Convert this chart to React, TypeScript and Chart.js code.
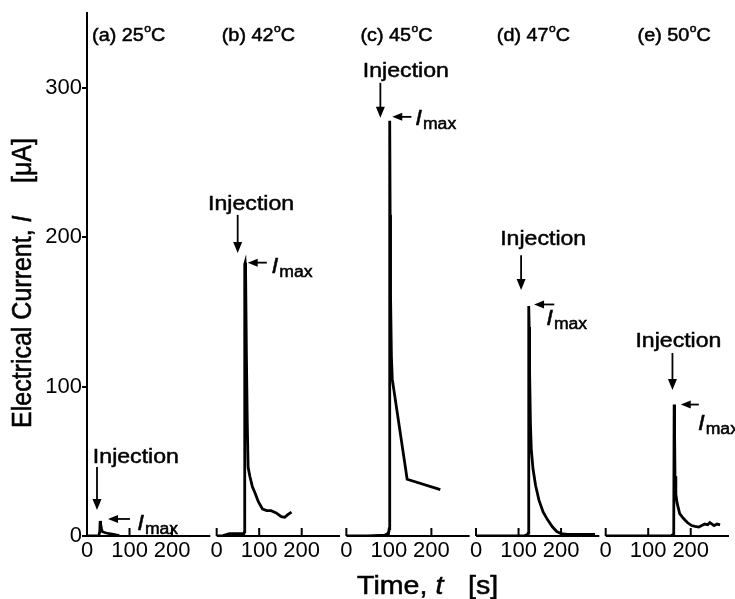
import React, { useEffect, useRef } from "react";
import { Chart, registerables } from "chart.js";

Chart.register(...registerables);

// ---- data ----
const PANEL_NAMES = ["(a) 25", "(b) 42", "(c) 45", "(d) 47", "(e) 50"];
const X_TICKS = [0, 100, 200];
const Y_TICKS = [0, 100, 200, 300];

const T_A = [0, 20, 28, 30, 31, 32, 34, 36, 40, 45, 55, 65, 72, 76];
const I_A = [0, 0, 0.3, 3, 10, 8, 5, 3, 2.5, 2, 1.5, 1, 0.5, 0.3];

const T_B = [0, 15, 30, 55, 64, 65.5, 66, 67, 68, 70, 72, 74, 78, 84, 90, 98, 108, 118, 128, 140, 152, 160, 168, 176];
const I_B = [0, 0.3, 1.5, 1.5, 1.5, 3, 182, 183, 178, 120, 75, 46, 40, 33, 29, 23, 18, 17, 17, 15.5, 13, 12.5, 14.5, 16];

const T_C = [0, 50, 90, 97, 100, 101, 102, 103, 104, 106, 108, 143, 221];
const I_C = [0, 0, 0.5, 1.5, 3, 5, 278, 215, 160, 120, 105, 38, 31];

const T_D = [0, 60, 115, 121, 123, 124, 125, 126, 128, 130, 134, 140, 148, 158, 168, 180, 190, 200, 215, 240, 280];
const I_D = [0, 0, 0.3, 1, 2, 154, 140, 110, 75, 58, 45, 34, 24, 16, 11, 6, 3, 1.5, 1, 1, 1];

const T_E = [0, 100, 155, 159, 160, 161, 162, 163, 165, 168, 174, 182, 192, 202, 210, 219, 226, 233, 240, 245, 250, 255, 262, 269];
const I_E = [0, 0, 0.3, 1, 3, 88, 70, 40, 28, 22, 15, 12, 9, 7, 6.5, 6, 7, 8, 7.5, 9, 8, 7, 8, 7.5];

const TIMES = [T_A, T_B, T_C, T_D, T_E];
const CURRENTS = [I_A, I_B, I_C, I_D, I_E];

// ---- layout of the panel strip (in seconds) ----
const PANEL_STEP = 305;
const PANEL_SPAN = 290;
const X_MAX = 4 * PANEL_STEP + PANEL_SPAN;
const Y_MAX = 350;

// ---- annotation placement (panel time / current units) ----
const LABEL_T = [12, 12, 33, 49, 75];
const LABEL_V = 331.5;
const INJ_TEXT_T = [115, 81, 140, 158, 171];
const INJ_TEXT_V = [48.9, 218, 307, 195, 126.6];
const INJ_ARROW_T = [23.5, 49.4, 80, 106, 157];
const INJ_ARROW_TOP = [46.2, 215, 303.4, 188, 122.5];
const INJ_ARROW_TIP = [17.4, 189.5, 280, 164.7, 97.8];
const IMAX_FROM_T = [101, 118, 153, 184, 219];
const IMAX_TO_T = [49.4, 73, 108, 136.5, 176.5];
const IMAX_V = [11.4, 183, 280.6, 155, 88];
const IMAX_TEXT_T = [118, 129, 162, 165, 217];
const IMAX_TEXT_V = [4, 176, 275, 141, 71];

const FAMILY = "'Liberation Sans', Arial, Helvetica, sans-serif";
const SX = 1.1;

function txt(ctx: CanvasRenderingContext2D, s: string, x: number, y: number, font: string, align: CanvasTextAlign = "left") {
  ctx.save();
  ctx.font = font;
  const w = ctx.measureText(s).width * SX;
  let x0 = x;
  if (align === "center") x0 = x - w / 2;
  else if (align === "right") x0 = x - w;
  ctx.translate(x0, y);
  ctx.scale(SX, 1);
  ctx.textAlign = "left";
  ctx.textBaseline = "alphabetic";
  ctx.fillStyle = "#000";
  ctx.strokeStyle = "#000";
  ctx.lineWidth = 0.5;
  ctx.fillText(s, 0, 0);
  ctx.strokeText(s, 0, 0);
  ctx.restore();
  return w;
}

function arrowDown(ctx: CanvasRenderingContext2D, x: number, y1: number, y2: number) {
  ctx.save();
  ctx.strokeStyle = "#000";
  ctx.fillStyle = "#000";
  ctx.lineWidth = 1.8;
  ctx.beginPath();
  ctx.moveTo(x, y1);
  ctx.lineTo(x, y2 - 8);
  ctx.stroke();
  ctx.beginPath();
  ctx.moveTo(x, y2);
  ctx.lineTo(x - 4.5, y2 - 11);
  ctx.lineTo(x + 4.5, y2 - 11);
  ctx.closePath();
  ctx.fill();
  ctx.restore();
}

function arrowLeft(ctx: CanvasRenderingContext2D, x1: number, x2: number, y: number) {
  ctx.save();
  ctx.strokeStyle = "#000";
  ctx.fillStyle = "#000";
  ctx.lineWidth = 1.8;
  ctx.beginPath();
  ctx.moveTo(x1, y);
  ctx.lineTo(x2 + 6, y);
  ctx.stroke();
  ctx.beginPath();
  ctx.moveTo(x2, y);
  ctx.lineTo(x2 + 10, y - 4);
  ctx.lineTo(x2 + 10, y + 4);
  ctx.closePath();
  ctx.fill();
  ctx.restore();
}

const decorPlugin = {
  id: "decor",
  afterDraw(chart: any) {
    const ctx: CanvasRenderingContext2D = chart.ctx;
    const xs = chart.scales.x;
    const ys = chart.scales.y;
    const px = (p: number, t: number) => xs.getPixelForValue(p * PANEL_STEP + t);
    const py = (v: number) => ys.getPixelForValue(v);
    const y0 = py(0);

    // panel x axes with inward ticks
    ctx.save();
    ctx.strokeStyle = "#000";
    ctx.lineWidth = 2;
    for (let p = 0; p < 5; p++) {
      ctx.beginPath();
      ctx.moveTo(px(p, 0), y0);
      ctx.lineTo(px(p, PANEL_SPAN), y0);
      ctx.stroke();
      for (const t of X_TICKS) {
        if (p === 0 && t === 0) continue;
        ctx.beginPath();
        ctx.moveTo(px(p, t), y0);
        ctx.lineTo(px(p, t), y0 - 8);
        ctx.stroke();
      }
    }
    ctx.restore();

    for (let p = 0; p < 5; p++) {
      // panel label
      let x = px(p, LABEL_T[p]);
      const yb = py(LABEL_V);
      x += txt(ctx, PANEL_NAMES[p], x, yb, `18px ${FAMILY}`);
      x += txt(ctx, "o", x + 0.5, yb - 9, `11px ${FAMILY}`) + 0.5;
      txt(ctx, "C", x, yb, `18px ${FAMILY}`);

      // Injection
      txt(ctx, "Injection", px(p, INJ_TEXT_T[p]), py(INJ_TEXT_V[p]), `21px ${FAMILY}`, "center");
      arrowDown(ctx, px(p, INJ_ARROW_T[p]), py(INJ_ARROW_TOP[p]), py(INJ_ARROW_TIP[p]));

      // I max
      arrowLeft(ctx, px(p, IMAX_FROM_T[p]), px(p, IMAX_TO_T[p]), py(IMAX_V[p]));
      const ix = px(p, IMAX_TEXT_T[p]);
      const iy = py(IMAX_TEXT_V[p]);
      const wI = txt(ctx, "I", ix, iy, `italic 22px ${FAMILY}`);
      txt(ctx, "max", ix + wI + 1, iy + 4, `16px ${FAMILY}`);
    }

    // y title (rotated)
    ctx.save();
    ctx.translate(31, 428);
    ctx.rotate(-Math.PI / 2);
    ctx.scale(1, SX);
    ctx.fillStyle = "#000";
    ctx.strokeStyle = "#000";
    ctx.lineWidth = 0.5;
    ctx.textBaseline = "alphabetic";
    ctx.textAlign = "left";
    ctx.font = `25px ${FAMILY}`;
    const s1 = "Electrical Current, ";
    ctx.fillText(s1, 0, 0);
    ctx.strokeText(s1, 0, 0);
    const off = ctx.measureText(s1).width;
    ctx.font = `italic 25px ${FAMILY}`;
    ctx.fillText("I", off, 0);
    ctx.strokeText("I", off, 0);
    ctx.font = `25px ${FAMILY}`;
    ctx.fillText("[\u03bcA]", 245, 0);
    ctx.strokeText("[\u03bcA]", 245, 0);
    ctx.restore();

    // x title
    const xb = 594;
    let xx = 357;
    xx += txt(ctx, "Time, ", xx, xb, `26px ${FAMILY}`);
    txt(ctx, "t", xx, xb, `italic 26px ${FAMILY}`);
    txt(ctx, "[s]", 468, xb, `26px ${FAMILY}`);
  },
};

export default function App() {
  const ref = useRef<HTMLCanvasElement | null>(null);
  useEffect(() => {
    document.body.style.margin = "0";
    const canvas = ref.current;
    if (!canvas) return;
    const datasets = TIMES.map((ts, p) => ({
      data: ts.map((t, k) => ({ x: p * PANEL_STEP + t, y: CURRENTS[p][k] })),
      borderColor: "#000",
      borderWidth: 2.8,
      pointRadius: 0,
      tension: 0,
      fill: false,
    }));
    const chart = new Chart(canvas, {
      type: "line",
      data: { datasets },
      options: {
        responsive: false,
        animation: false,
        devicePixelRatio: 1,
        layout: { padding: { left: 37, right: 6, top: 13, bottom: 23 } },
        plugins: { legend: { display: false }, tooltip: { enabled: false } },
        scales: {
          x: {
            type: "linear",
            min: 0,
            max: X_MAX,
            grid: { display: false, tickLength: 0 },
            border: { display: false },
            afterBuildTicks: (s: any) => {
              const out: any[] = [];
              for (let p = 0; p < 5; p++) for (const t of X_TICKS) out.push({ value: p * PANEL_STEP + t });
              s.ticks = out;
            },
            afterFit: (s: any) => {
              s.height = 40;
            },
            ticks: {
              autoSkip: false,
              maxRotation: 0,
              padding: 2,
              color: "#000",
              font: { family: FAMILY, size: 22 },
              callback: (v: any) => String(Number(v) % PANEL_STEP),
            },
          },
          y: {
            type: "linear",
            min: 0,
            max: Y_MAX,
            afterBuildTicks: (s: any) => {
              s.ticks = Y_TICKS.map((v) => ({ value: v }));
            },
            afterFit: (s: any) => {
              s.width = 50;
            },
            grid: { drawOnChartArea: false, drawTicks: true, tickLength: 5, color: "#000", lineWidth: 2 },
            border: { display: true, color: "#000", width: 2 },
            ticks: { padding: 0, color: "#000", font: { family: FAMILY, size: 22 } },
          },
        },
      },
      plugins: [decorPlugin],
    });
    return () => chart.destroy();
  }, []);
  return (
    <div style={{ width: 735, height: 599, overflow: "hidden", background: "#fff" }}>
      <canvas ref={ref} width={735} height={599} />
    </div>
  );
}
